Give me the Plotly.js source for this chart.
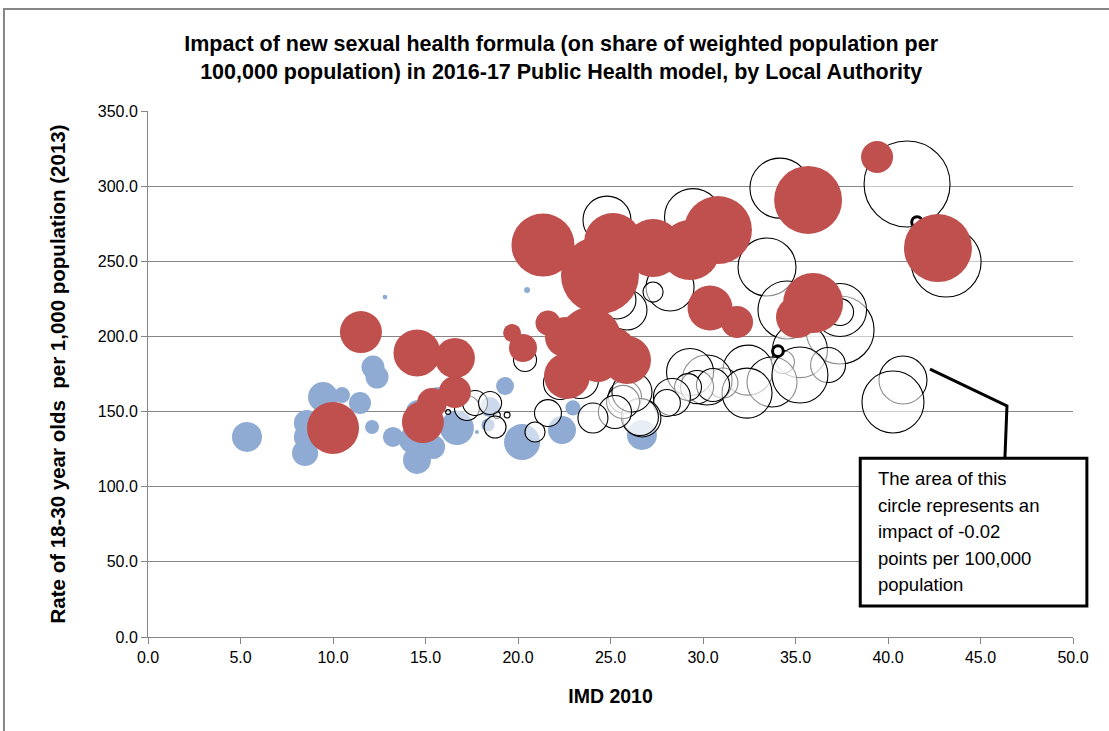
<!DOCTYPE html>
<html><head><meta charset="utf-8">
<script src="https://cdn.plot.ly/plotly-3.0.1.min.js"></script>
<style>html,body{margin:0;padding:0;background:#fff}#chart{width:1109px;height:731px}</style>
</head><body><div id="chart"></div>
<script>
// Red series (larger positive impact)
const redX = [39.41,35.68,42.70,21.35,25.14,24.43,27.30,29.30,30.81,30.38,31.84,35.95,35.08,11.51,10.00,14.54,16.59,16.59,15.35,14.86,19.68,20.27,21.62,22.54,23.89,25.08,25.89,22.65,24.32];
const redY = [319.4,290.8,258.8,260.8,262.8,240.9,258.8,257.5,270.8,218.9,209.6,222.2,212.9,202.9,139.1,189.0,185.6,163.0,155.7,143.0,202.3,192.3,208.9,199.6,198.9,189.6,184.3,173.7,183.0];
const redImpact = [0.0089,0.0401,0.0401,0.0345,0.0292,0.0528,0.0292,0.0313,0.0401,0.0176,0.0089,0.0313,0.0153,0.0153,0.0235,0.0192,0.0139,0.0089,0.0078,0.0153,0.0028,0.0068,0.0054,0.0139,0.0334,0.0217,0.0200,0.0184,0.0139];

// Blue series (smaller positive impact)
const blueX = [5.35,8.49,8.59,8.59,9.46,10.49,11.46,12.11,12.16,12.38,13.24,14.54,14.27,15.41,16.70,14.59,15.68,18.49,18.38,19.30,20.22,22.38,22.97,26.70,12.81,20.49,17.78,10.11];
const blueY = [133.1,122.4,133.1,142.4,159.7,161.0,155.7,139.7,179.6,173.0,133.1,117.8,131.1,126.4,139.1,149.7,159.0,153.0,141.1,167.0,129.7,137.7,152.4,134.4,226.2,230.9,136.4,131.1];
const blueImpact = [0.0078,0.0059,0.0059,0.0059,0.0078,0.0022,0.0042,0.0017,0.0046,0.0046,0.0035,0.0068,0.0059,0.0050,0.0100,0.0050,0.0042,0.0035,0.0015,0.0028,0.0113,0.0068,0.0020,0.0078,0.0002,0.0003,0.00014,0.0042];

// Open circles (negative impact, magnitude shown)
const openX = [41.03,34.16,43.14,33.46,24.81,29.46,28.22,27.30,25.89,25.35,34.54,37.41,37.41,37.41,35.24,34.32,36.76,32.43,33.73,31.08,30.22,32.38,35.24,40.81,40.27,29.30,29.68,30.54,29.19,28.32,28.05,26.70,25.78,26.59,25.68,26.16,25.24,24.05,22.27,23.35,21.62,20.92,19.41,18.86,16.22,17.24,17.68,18.49,18.76,20.38];
const openY = [301.4,298.7,249.5,246.2,277.4,279.4,232.9,229.5,217.6,224.2,217.6,204.3,217.6,216.2,190.9,183.0,181.0,177.6,169.7,169.0,171.0,162.3,174.3,171.0,156.4,176.3,166.3,167.7,166.3,159.7,155.7,145.7,159.7,146.4,156.4,163.0,149.7,145.7,169.0,171.0,149.0,136.4,147.7,147.7,149.7,152.4,155.7,155.7,139.7,184.3];
const openImpact = [0.0642,0.0313,0.0425,0.0292,0.0200,0.0282,0.0200,0.0035,0.0139,0.0125,0.0292,0.0401,0.0244,0.0063,0.0263,0.0046,0.0106,0.0217,0.0217,0.0078,0.0217,0.0217,0.0272,0.0200,0.0334,0.0192,0.0095,0.0095,0.0063,0.0119,0.0063,0.0125,0.0095,0.0119,0.0095,0.0139,0.0095,0.0078,0.0095,0.0119,0.0063,0.0035,0.0003,0.0004,0.0002,0.0054,0.0054,0.0046,0.0042,0.0046];

// Highlighted authorities (thick outline)
const hiX = [41.57,34.05];
const hiY = [276.1,190.3];
const hiImpact = [0.0010,0.0010];

const xTicks = [0,5,10,15,20,25,30,35,40,45,50];
const yTicks = [0,50,100,150,200,250,300,350];

const refImpact = 0.02, refDiam = 48;
const sref = 2*refImpact/(refDiam*refDiam);

const traces = [
  {type:'scatter',mode:'markers',x:blueX,y:blueY,name:'blue',
   marker:{size:blueImpact,sizemode:'area',sizeref:sref,opacity:1,color:'#8FABD4',line:{width:0}}},
  {type:'scatter',mode:'markers',x:openX,y:openY,name:'open',
   marker:{size:openImpact,sizemode:'area',sizeref:sref,opacity:1,color:'rgba(255,255,255,0.55)',line:{width:1.1,color:'#000'}}},
  {type:'scatter',mode:'markers',x:hiX,y:hiY,name:'highlight',
   marker:{size:hiImpact,sizemode:'area',sizeref:sref,opacity:1,color:'#fff',line:{width:3,color:'#000'}}},
  {type:'scatter',mode:'markers',x:redX,y:redY,name:'red',
   marker:{size:redImpact,sizemode:'area',sizeref:sref,opacity:1,color:'#C0504D',line:{width:0}}}
];

const F = 'Liberation Sans, Arial, sans-serif';
const boxLines = ['The area of this','circle represents an','impact of -0.02','points per 100,000','population'];
const annotations = boxLines.map((t,i)=>({
  xref:'paper',yref:'paper',x:0.787,y:0.325 - i*0.0505,xanchor:'left',yanchor:'top',
  text:t,showarrow:false,align:'left',font:{family:F,size:18.5,color:'#000'}
}));

const layout = {
  width:1109,height:731,
  margin:{l:148,r:36,t:111,b:94},
  paper_bgcolor:'#fff',plot_bgcolor:'#fff',
  showlegend:false,
  font:{family:F,color:'#000'},
  title:{text:'<b>Impact of new sexual health formula (on share of weighted population per<br>100,000 population) in 2016-17 Public Health model, by Local Authority</b>',
    font:{family:F,size:21.5,color:'#000'},x:0.506,xref:'container',xanchor:'center',y:0.93,yref:'container',yanchor:'middle'},
  xaxis:{range:[0,50],tickvals:xTicks,tickformat:'.1f',showgrid:false,zeroline:false,
    showline:true,linecolor:'#868686',linewidth:1,ticks:'outside',ticklen:6,tickcolor:'#868686',
    tickfont:{family:F,size:16,color:'#000'},
    title:{text:'<b>IMD 2010</b>',font:{family:F,size:19.5,color:'#000'},standoff:24}},
  yaxis:{range:[0,350],tickvals:yTicks,tickformat:'.1f',showgrid:true,gridcolor:'#868686',gridwidth:1,zeroline:false,
    showline:true,linecolor:'#868686',linewidth:1,ticks:'outside',ticklen:6,tickcolor:'#868686',
    tickfont:{family:F,size:16,color:'#000'},
    title:{text:'<b>Rate of 18-30 year olds  per 1,000 population (2013)</b>',font:{family:F,size:20.5,color:'#000'},standoff:26}},
  shapes:[
    {type:'rect',xref:'paper',yref:'paper',x0:-0.1557,x1:1.045,y0:-0.19,y1:1.194,line:{color:'#868686',width:2},fillcolor:'rgba(0,0,0,0)'},
    {type:'path',xref:'x',yref:'y',path:'M 42.27 178.3 L 46.43 153.7 L 46.32 119.1',line:{color:'#000',width:3}},
    {type:'rect',xref:'paper',yref:'paper',x0:0.770,x1:1.015,y0:0.059,y1:0.340,line:{color:'#000',width:3},fillcolor:'#fff'}
  ],
  annotations:annotations
};

Plotly.newPlot('chart',traces,layout,{displayModeBar:false,staticPlot:true});
</script>
</body></html>
